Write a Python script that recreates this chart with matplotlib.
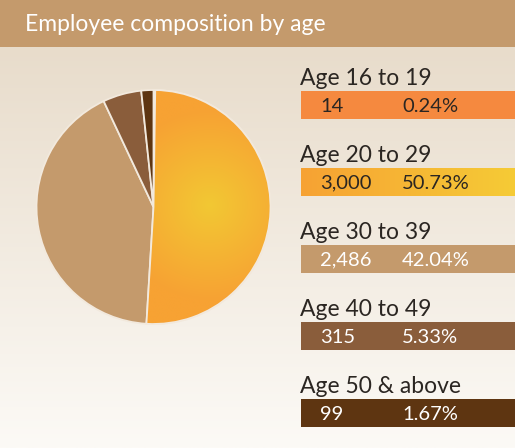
import matplotlib.pyplot as plt
import numpy as np
from matplotlib.patches import Rectangle, Wedge

# data
categories = ['Age 16 to 19', 'Age 20 to 29', 'Age 30 to 39', 'Age 40 to 49', 'Age 50 & above']
counts = [14, 3000, 2486, 315, 99]
shares = [0.24, 50.73, 42.04, 5.33, 1.67]

colors = ['#F5893F', '#F7A233', '#C49A6C', '#8A5D3B', '#5E3511']
value_colors = ['#2B2622', '#2B2622', 'white', 'white', 'white']

W, H = 515, 448
plt.rcParams['font.family'] = ['Lato', 'DejaVu Sans']

fig = plt.figure(figsize=(W / 100, H / 100), dpi=100)
ax = fig.add_axes([0, 0, 1, 1])

def py(y):
    # pixel row (from top) -> data y
    return H - y

# background gradient
grad = np.linspace(0, 1, 256)[:, None]
top_c = np.array([0xE8, 0xDC, 0xCB]) / 255
bot_c = np.array([0xFC, 0xFA, 0xF6]) / 255
bg = top_c[None, None, :] * (1 - grad[..., None]) + bot_c[None, None, :] * grad[..., None]
ax.imshow(bg, extent=[0, W, 0, py(47)], aspect='auto', zorder=0)

# header band
ax.add_patch(Rectangle((0, py(47)), W, 47, facecolor='#C49A6C', edgecolor='none', zorder=1))
ax.text(25, py(24), 'Employee composition by age', color='white', fontsize=16.5,
        va='center', ha='left', zorder=2)

# pie
cx, cy, r = 153.5, py(207), 117
wedges, _ = ax.pie(counts, colors=colors, startangle=90, counterclock=False,
                   center=(cx, cy), radius=r,
                   wedgeprops=dict(edgecolor='#F2E9DD', linewidth=1.3))

# radial gradient on the 20-29 slice
n = 300
xs = np.linspace(cx - r, cx + r, n)
ys = np.linspace(cy - r, cy + r, n)
X, Y = np.meshgrid(xs, ys)
gx, gy = cx + 56, cy + 2
d = np.clip(np.hypot(X - gx, Y - gy) / 95, 0, 1)
c_in = np.array([0xF2, 0xC8, 0x34]) / 255
c_out = np.array([0xF7, 0xA2, 0x33]) / 255
rad = c_in[None, None, :] * (1 - d[..., None]) + c_out[None, None, :] * d[..., None]
im = ax.imshow(rad, extent=[cx - r, cx + r, cy - r, cy + r], origin='lower',
               aspect='auto', zorder=3)
im.set_clip_path(wedges[1])
w1 = wedges[1]
ax.add_patch(Wedge(w1.center, w1.r, w1.theta1, w1.theta2, facecolor='none',
                   edgecolor='#F2E9DD', linewidth=1.3, zorder=4))

# legend boxes
box_tops = [91, 168, 245, 322, 399]
box_h = 28
for i, cat in enumerate(categories):
    t = box_tops[i]
    ax.text(300, py(t - 6), cat, color='#2B2622', fontsize=16.5, ha='left',
            va='baseline', zorder=5)
    rect = Rectangle((301, py(t + box_h)), W - 301, box_h, facecolor=colors[i],
                     edgecolor='none', zorder=3)
    ax.add_patch(rect)
    if i == 1:
        hg = np.linspace(0, 1, 256)[None, :]
        a = np.array([0xF7, 0xA2, 0x33]) / 255
        b = np.array([0xF5, 0xCB, 0x36]) / 255
        himg = a[None, None, :] * (1 - hg[..., None]) + b[None, None, :] * hg[..., None]
        ax.imshow(himg, extent=[301, W, py(t + box_h), py(t)], aspect='auto', zorder=3.5)
    ax.text(320, py(t + box_h / 2 + 1), f'{counts[i]:,}', color=value_colors[i],
            fontsize=14.5, ha='left', va='center', zorder=5)
    ax.text(402, py(t + box_h / 2 + 1), f'{shares[i]:.2f}%', color=value_colors[i],
            fontsize=14.5, ha='left', va='center', zorder=5)

ax.set_xlim(0, W)
ax.set_ylim(0, H)
ax.set_aspect('auto')
ax.axis('off')

fig.savefig('out.png', dpi=100)
